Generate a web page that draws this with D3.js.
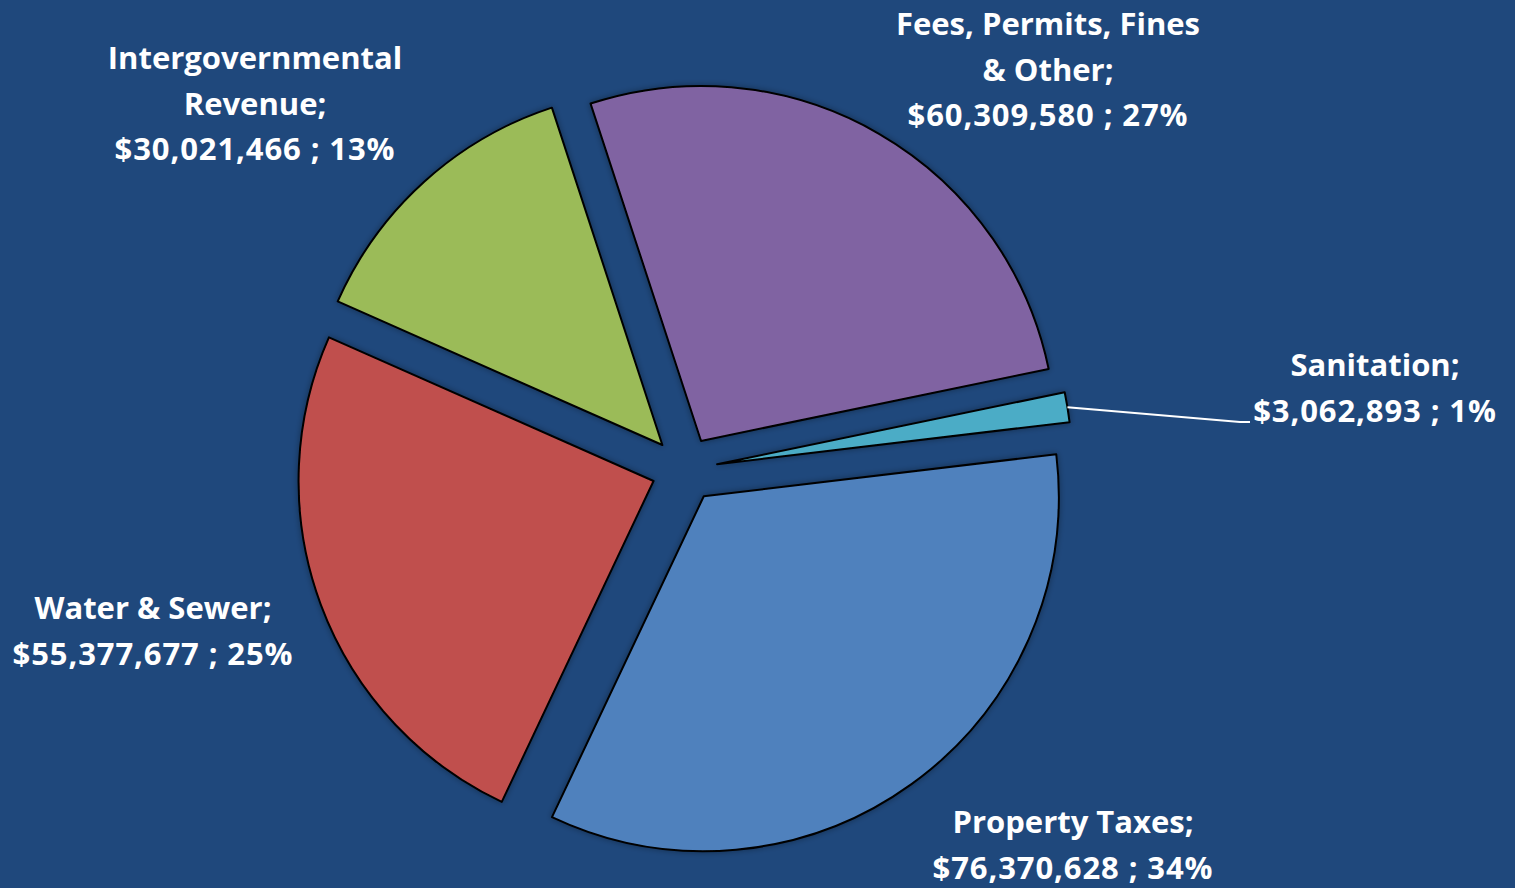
<!DOCTYPE html>
<html>
<head>
<meta charset="utf-8">
<script src="https://cdn.jsdelivr.net/npm/d3@7"></script>
<style>
  html, body { margin: 0; padding: 0; background: #1f487c; }
  svg { display: block; }
  .lbl { font-family: "Open Sans", "Lato", sans-serif; font-weight: 700; fill: #fff; }
</style>
</head>
<body>
<svg id="chart" width="1515" height="888"></svg>
<script>
// revenue by source
const categories = ["Property Taxes", "Water & Sewer", "Intergovernmental Revenue", "Fees, Permits, Fines & Other", "Sanitation"];
const amounts = [76370628, 55377677, 30021466, 60309580, 3062893];
const percents = ["34%", "25%", "13%", "27%", "1%"];
const colors = ["#4f81bd", "#c0504d", "#9bbb59", "#8064a2", "#4bacc6"];

// label lines (how Excel wrapped them)
const labelLines = [
  ["Property Taxes;"],
  ["Water & Sewer;"],
  ["Intergovernmental", "Revenue;"],
  ["Fees, Permits, Fines", "& Other;"],
  ["Sanitation;"]
];
// label anchor (center x, first baseline y)
const labelPos = [[1073, 833], [153, 619], [255, 69], [1048, 35], [1375, 376]];

const svg = d3.select("#chart");
const cx = 684.5, cy = 469.5;
const radius = 355;
const explode = 33;
const fmt = d3.format("$,");

const data = categories.map((c, i) => ({ name: c, value: amounts[i], pct: percents[i], color: colors[i], lines: labelLines[i], pos: labelPos[i] }));

const start = 83.2 * Math.PI / 180;
const pie = d3.pie().sort(null).value(d => d.value).startAngle(start).endAngle(start + 2 * Math.PI);
const arcs = pie(data);
const arc = d3.arc().innerRadius(0).outerRadius(radius);

const defs = svg.append("defs");
const f = defs.append("filter").attr("id", "shadow").attr("x", "-20%").attr("y", "-20%").attr("width", "140%").attr("height", "140%");
f.append("feDropShadow").attr("dx", 0).attr("dy", 0).attr("stdDeviation", 3).attr("flood-color", "#000").attr("flood-opacity", 0.35);

const g = svg.append("g").attr("transform", `translate(${cx},${cy})`);

g.selectAll("path")
  .data(arcs)
  .join("path")
  .attr("transform", d => {
    const a = (d.startAngle + d.endAngle) / 2;
    return `translate(${Math.sin(a) * explode},${-Math.cos(a) * explode})`;
  })
  .attr("d", arc)
  .attr("fill", d => d.data.color)
  .attr("stroke", "#000")
  .attr("stroke-width", 2)
  .attr("stroke-linejoin", "round")
  .attr("filter", "url(#shadow)");

// leader line for sanitation
const san = arcs[4];
const sa = (san.startAngle + san.endAngle) / 2;
const sx = cx + Math.sin(sa) * (explode + radius);
const sy = cy - Math.cos(sa) * (explode + radius);
svg.append("path")
  .attr("d", `M${sx},${sy}L1240,422L1250,422`)
  .attr("fill", "none")
  .attr("stroke", "#fff")
  .attr("stroke-width", 2);

const lineH = 45.5;
data.forEach(d => {
  const t = svg.append("text")
    .attr("class", "lbl")
    .attr("text-anchor", "middle")
    .attr("font-size", 31);
  d.lines.forEach((s, i) => {
    t.append("tspan").attr("x", d.pos[0]).attr("y", d.pos[1] + i * lineH).text(s);
  });
  t.append("tspan")
    .attr("x", d.pos[0])
    .attr("y", d.pos[1] + d.lines.length * lineH)
    .attr("letter-spacing", 0.9)
    .text(`${fmt(d.value)} ; ${d.pct}`);
});
</script>
</body>
</html>
